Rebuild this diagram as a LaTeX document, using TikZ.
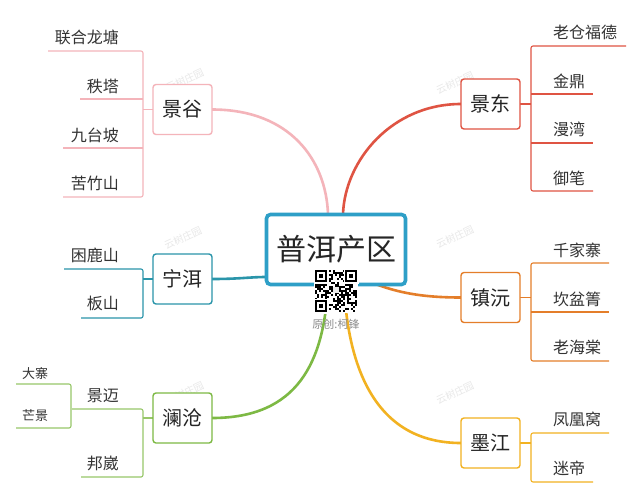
\documentclass[tikz,border=0pt]{standalone}
\usepackage{fontspec}
\setmainfont{Noto Sans CJK SC}
\definecolor{cpink}{HTML}{F4B4BA}
\definecolor{cred}{HTML}{DF5443}
\definecolor{cteal}{HTML}{2A95AA}
\definecolor{cgreen}{HTML}{7DB944}
\definecolor{corange}{HTML}{E47E2A}
\definecolor{cyellow}{HTML}{F2B221}
\definecolor{cblue}{HTML}{2E9FC7}
\definecolor{ctext}{HTML}{333333}
\tikzset{
  subbox/.style={draw=#1, line width=1.4pt, rounded corners=3pt, fill=white,
    minimum width=59pt, minimum height=50pt, inner sep=0pt, font=\fontsize{20}{20}\selectfont, text=ctext!70!black},
  leafL/.style={anchor=east, inner sep=0pt, font=\fontsize{16}{16}\selectfont, text=ctext},
  leafR/.style={anchor=west, inner sep=0pt, font=\fontsize{16}{16}\selectfont, text=ctext},
  leafS/.style={anchor=west, inner sep=0pt, font=\fontsize{13}{13}\selectfont, text=ctext},
  mainline/.style={draw=#1, line width=2.6pt, line cap=round},
  leafline/.style={draw=#1, line width=1.1pt, rounded corners=2pt},
  wmark/.style={text=black!9, rotate=25, font=\fontsize{10}{10}\selectfont, inner sep=0pt}
}
\begin{document}
\begin{tikzpicture}[x=1pt,y=-1pt]
\useasboundingbox (0,0) rectangle (640,499);
\fill[white] (0,0) rectangle (640,499);

% watermarks
\node[wmark] (w1) at (185,80) {云树庄园};
\node[wmark] (w2) at (455,83) {云树庄园};
\node[wmark] (w3) at (183,238) {云树庄园};
\node[wmark] (w4) at (455,237) {云树庄园};
\node[wmark] (w5) at (185,393) {云树庄园};
\node[wmark] (w6) at (455,393) {云树庄园};

% nodes (positions)
\coordinate (pc) at (336,249.5);
\coordinate (jg) at (182.5,109.5);
\coordinate (jd) at (490.5,104);
\coordinate (ne) at (182.5,279);
\coordinate (lc) at (182.5,418);
\coordinate (zy) at (490.5,297.5);
\coordinate (mj) at (490.5,443);

% main connectors
\coordinate (jgR) at (212,109.5);
\coordinate (jdL) at (461,104);
\coordinate (neR) at (212,279);
\coordinate (lcR) at (212,418);
\coordinate (zyL) at (461,297.5);
\coordinate (mjL) at (461,443);
\coordinate (cTopL) at (328,214);
\coordinate (cTopR) at (343,214);
\coordinate (cLeft) at (266,277);
\coordinate (cBotL) at (328,285);
\coordinate (cBotR) at (344,285);
\coordinate (cBotRR) at (378,285);
\draw[mainline=cpink] (jgR) .. controls (290,109.5) and (326,160) .. (cTopL);
\draw[mainline=cred] (jdL) .. controls (392,104) and (345,160) .. (cTopR);
\draw[mainline=cteal] (neR) .. controls (240,279) and (250,277) .. (cLeft);
\draw[mainline=cgreen] (lcR) .. controls (298,418) and (324,362) .. (cBotL);
\draw[mainline=cyellow] (mjL) .. controls (378,443) and (348,372) .. (cBotR);
\draw[mainline=corange] (zyL) .. controls (420,297.5) and (398,292) .. (cBotRR);

% 景谷 leaves
\draw[leafline=cpink] (48,51) -- (143,51) -- (143,197) -- (63,197);
\draw[leafline=cpink] (80,99) -- (143,99);
\draw[leafline=cpink] (63,148) -- (143,148);
\draw[leafline=cpink] (143,109.5) -- (153,109.5);
\node[leafL] (a1) at (119,37) {联合龙塘};
\node[leafL] (a2) at (119,86) {秩塔};
\node[leafL] (a3) at (119,135) {九台坡};
\node[leafL] (a4) at (119,183) {苦竹山};

% 景东 leaves
\draw[leafline=cred] (626,46) -- (531,46) -- (531,191) -- (593,191);
\draw[leafline=cred] (531,94) -- (593,94);
\draw[leafline=cred] (531,143) -- (593,143);
\draw[leafline=cred] (520,104) -- (531,104);
\node[leafR] (b1) at (553,32) {老仓福德};
\node[leafR] (b2) at (553,81) {金鼎};
\node[leafR] (b3) at (553,129) {漫湾};
\node[leafR] (b4) at (553,178) {御笔};

% 宁洱 leaves
\draw[leafline=cteal] (64,269) -- (143,269) -- (143,318) -- (81,318);
\draw[leafline=cteal] (143,279) -- (153,279);
\node[leafL] (c1) at (119,255) {困鹿山};
\node[leafL] (c2) at (119,303) {板山};

% 澜沧 leaves
\draw[leafline=cgreen!80!white] (72,409) -- (143,409) -- (143,477) -- (81,477);
\draw[leafline=cgreen!80!white] (143,418) -- (153,418);
\draw[leafline=cgreen!80!white] (16,384) -- (71,384) -- (71,428) -- (16,428);
\node[leafL] (d1) at (119,396) {景迈};
\node[leafL] (d2) at (119,463) {邦崴};
\node[leafS] (d3) at (22,374) {大寨};
\node[leafS] (d4) at (22,416) {芒景};

% 镇沅 leaves
\draw[leafline=corange] (609,263) -- (531,263) -- (531,361) -- (609,361);
\draw[leafline=corange] (531,312) -- (609,312);
\draw[leafline=corange] (520,297.5) -- (531,297.5);
\node[leafR] (e1) at (553,250) {千家寨};
\node[leafR] (e2) at (553,299) {坎盆箐};
\node[leafR] (e3) at (553,347) {老海棠};

% 墨江 leaves
\draw[leafline=cyellow] (609,433) -- (531,433) -- (531,482) -- (593,482);
\draw[leafline=cyellow] (520,443) -- (531,443);
\node[leafR] (f1) at (553,419) {凤凰窝};
\node[leafR] (f2) at (553,468) {迷帝};

% boxes
\node[draw=cblue, line width=3.6pt, rounded corners=4pt, fill=white, minimum width=139pt, minimum height=70pt,
  inner sep=0pt, font=\fontsize{30}{30}\selectfont, text=black!85] (center) at (pc) {普洱产区};
\node[subbox=cpink] (jgbox) at (jg) {景谷};
\node[subbox=cred] (jdbox) at (jd) {景东};
\node[subbox=cteal] (nebox) at (ne) {宁洱};
\node[subbox=cgreen] (lcbox) at (lc) {澜沧};
\node[subbox=corange] (zybox) at (zy) {镇沅};
\node[subbox=cyellow] (mjbox) at (mj) {墨江};

% QR code
\fill[white] (314,269) rectangle (358,313);
\pgfmathsetseed{12}
\foreach \i in {0,...,20}{\foreach \j in {0,...,20}{
  \pgfmathsetmacro\rr{rnd}
  \ifdim\rr pt<0.5pt \fill[black] (315+2*\i,270+2*\j) rectangle ++(2,2); \fi
}}
\foreach \ox/\oy in {315/270, 345/270, 315/300}{
  \fill[white] (\ox-1,\oy-1) rectangle ++(15,15);
  \fill[black] (\ox,\oy) rectangle ++(12,12);
  \fill[white] (\ox+2,\oy+2) rectangle ++(8,8);
  \fill[black] (\ox+4,\oy+4) rectangle ++(4,4);
}
\fill[white!92!black] (333,287) rectangle ++(6,6);
\node[text=black!45, font=\fontsize{11}{11}\selectfont, inner sep=0pt] (orig) at (336,324) {原创:柯锋};
\end{tikzpicture}
\end{document}
